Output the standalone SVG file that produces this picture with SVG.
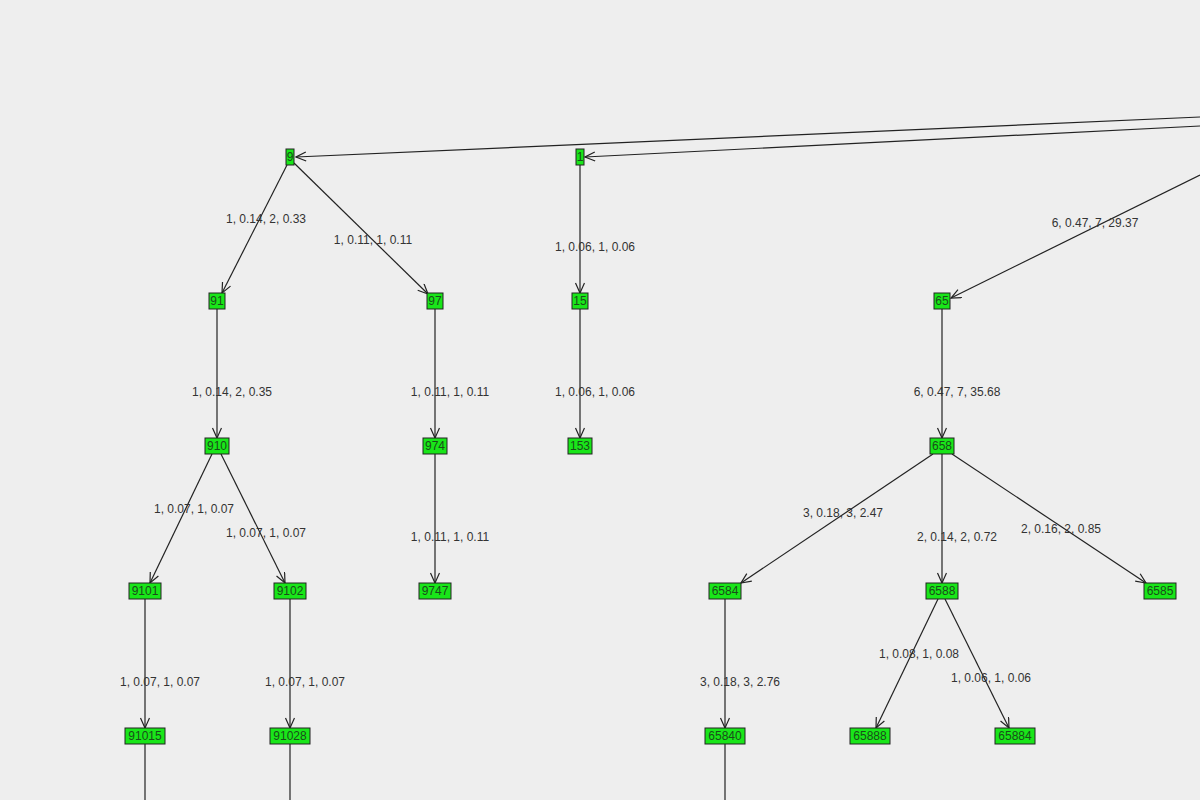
<svg xmlns="http://www.w3.org/2000/svg" width="1200" height="800" viewBox="0 0 1200 800">
<style>
.n rect{fill:#19e619;stroke:#222;stroke-width:1}
.n text{font-family:"Liberation Sans",Arial,sans-serif;font-size:12px;fill:#1a4d1a;text-anchor:middle}
.e line{stroke:#222;stroke-width:1.2;marker-end:url(#a)}
.l{font-family:"Liberation Sans",Arial,sans-serif;font-size:12px;fill:#333;text-anchor:middle}
</style>
<defs><marker id="a" markerWidth="12" markerHeight="12" refX="11" refY="5" orient="auto" markerUnits="userSpaceOnUse"><path d="M1,0.5 L11,5 L1,9.5" fill="none" stroke="#222" stroke-width="1.2"/></marker></defs>
<rect width="1200" height="800" fill="#eeeeee"/>
<g class="e">
<line x1="1200" y1="117" x2="296" y2="157"/>
<line x1="1200" y1="126" x2="585" y2="157"/>
<line x1="1200" y1="175" x2="951" y2="298"/>
<line x1="287" y1="165" x2="222" y2="293"/>
<line x1="294" y1="163" x2="428" y2="294"/>
<line x1="580" y1="165" x2="580" y2="293"/>
<line x1="217" y1="309" x2="217" y2="438"/>
<line x1="435" y1="309" x2="435" y2="438"/>
<line x1="580" y1="309" x2="580" y2="438"/>
<line x1="942" y1="309" x2="942" y2="438"/>
<line x1="212" y1="454" x2="150" y2="583"/>
<line x1="221" y1="454" x2="285" y2="583"/>
<line x1="435" y1="454" x2="435" y2="583"/>
<line x1="933" y1="454" x2="741" y2="583"/>
<line x1="942" y1="454" x2="942" y2="583"/>
<line x1="952" y1="454" x2="1146" y2="583"/>
<line x1="145" y1="599" x2="145" y2="728"/>
<line x1="290" y1="599" x2="290" y2="728"/>
<line x1="725" y1="599" x2="725" y2="728"/>
<line x1="938" y1="599" x2="876" y2="728"/>
<line x1="945" y1="599" x2="1009" y2="728"/>
<line x1="145" y1="744" x2="145" y2="800" style="marker-end:none"/>
<line x1="290" y1="744" x2="290" y2="800" style="marker-end:none"/>
<line x1="725" y1="744" x2="725" y2="800" style="marker-end:none"/>
</g>
<g>
<text class="l" x="266" y="223">1, 0.14, 2, 0.33</text>
<text class="l" x="373" y="244">1, 0.11, 1, 0.11</text>
<text class="l" x="595" y="251">1, 0.06, 1, 0.06</text>
<text class="l" x="1095" y="227">6, 0.47, 7, 29.37</text>
<text class="l" x="232" y="396">1, 0.14, 2, 0.35</text>
<text class="l" x="450" y="396">1, 0.11, 1, 0.11</text>
<text class="l" x="595" y="396">1, 0.06, 1, 0.06</text>
<text class="l" x="957" y="396">6, 0.47, 7, 35.68</text>
<text class="l" x="194" y="513">1, 0.07, 1, 0.07</text>
<text class="l" x="266" y="537">1, 0.07, 1, 0.07</text>
<text class="l" x="450" y="541">1, 0.11, 1, 0.11</text>
<text class="l" x="843" y="517">3, 0.18, 3, 2.47</text>
<text class="l" x="957" y="541">2, 0.14, 2, 0.72</text>
<text class="l" x="1061" y="533">2, 0.16, 2, 0.85</text>
<text class="l" x="160" y="686">1, 0.07, 1, 0.07</text>
<text class="l" x="305" y="686">1, 0.07, 1, 0.07</text>
<text class="l" x="740" y="686">3, 0.18, 3, 2.76</text>
<text class="l" x="919" y="658">1, 0.08, 1, 0.08</text>
<text class="l" x="991" y="682">1, 0.06, 1, 0.06</text>
</g>
<g id="n9" class="n"><rect x="286" y="149" width="8" height="16"/><text x="290" y="161">9</text></g>
<g id="n1" class="n"><rect x="576" y="149" width="8" height="16"/><text x="580" y="161">1</text></g>
<g id="n91" class="n"><rect x="209" y="293" width="16" height="16"/><text x="217" y="305">91</text></g>
<g id="n97" class="n"><rect x="427" y="293" width="16" height="16"/><text x="435" y="305">97</text></g>
<g id="n15" class="n"><rect x="572" y="293" width="16" height="16"/><text x="580" y="305">15</text></g>
<g id="n65" class="n"><rect x="934" y="293" width="16" height="16"/><text x="942" y="305">65</text></g>
<g id="n910" class="n"><rect x="205" y="438" width="24" height="16"/><text x="217" y="450">910</text></g>
<g id="n974" class="n"><rect x="423" y="438" width="24" height="16"/><text x="435" y="450">974</text></g>
<g id="n153" class="n"><rect x="568" y="438" width="24" height="16"/><text x="580" y="450">153</text></g>
<g id="n658" class="n"><rect x="930" y="438" width="24" height="16"/><text x="942" y="450">658</text></g>
<g id="n9101" class="n"><rect x="129" y="583" width="32" height="16"/><text x="145" y="595">9101</text></g>
<g id="n9102" class="n"><rect x="274" y="583" width="32" height="16"/><text x="290" y="595">9102</text></g>
<g id="n9747" class="n"><rect x="419" y="583" width="32" height="16"/><text x="435" y="595">9747</text></g>
<g id="n6584" class="n"><rect x="709" y="583" width="32" height="16"/><text x="725" y="595">6584</text></g>
<g id="n6588" class="n"><rect x="926" y="583" width="32" height="16"/><text x="942" y="595">6588</text></g>
<g id="n6585" class="n"><rect x="1144" y="583" width="32" height="16"/><text x="1160" y="595">6585</text></g>
<g id="n91015" class="n"><rect x="125" y="728" width="40" height="16"/><text x="145" y="740">91015</text></g>
<g id="n91028" class="n"><rect x="270" y="728" width="40" height="16"/><text x="290" y="740">91028</text></g>
<g id="n65840" class="n"><rect x="705" y="728" width="40" height="16"/><text x="725" y="740">65840</text></g>
<g id="n65888" class="n"><rect x="850" y="728" width="40" height="16"/><text x="870" y="740">65888</text></g>
<g id="n65884" class="n"><rect x="995" y="728" width="40" height="16"/><text x="1015" y="740">65884</text></g>
</svg>
